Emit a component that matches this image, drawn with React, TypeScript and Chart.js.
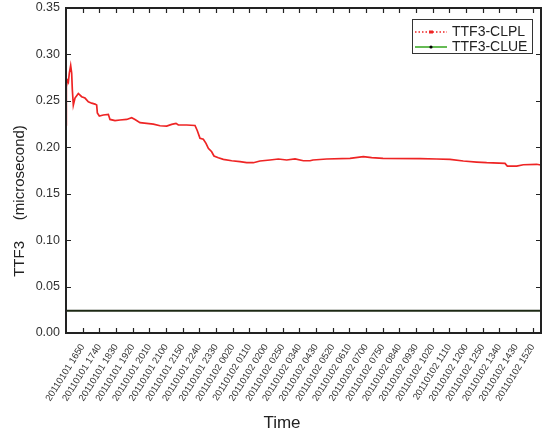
import React, { useEffect, useRef } from 'react';
import { Chart, registerables } from 'chart.js';

Chart.register(...registerables);

// Time stamps are written as "YYYYMMDD HHMM"; the x scale runs in minutes from the axis start.
const axisStart = '20110101 1600';
const axisEnd = '20110102 1545';

const tickLabels = [
  '20110101 1650', '20110101 1740', '20110101 1830', '20110101 1920', '20110101 2010',
  '20110101 2100', '20110101 2150', '20110101 2240', '20110101 2330', '20110102 0020',
  '20110102 0110', '20110102 0200', '20110102 0250', '20110102 0340', '20110102 0430',
  '20110102 0520', '20110102 0610', '20110102 0700', '20110102 0750', '20110102 0840',
  '20110102 0930', '20110102 1020', '20110102 1110', '20110102 1200', '20110102 1250',
  '20110102 1340', '20110102 1430', '20110102 1520',
];

const yTicks = [0, 0.05, 0.1, 0.15, 0.2, 0.25, 0.3, 0.35];

// TTF3-CLPL samples: minutes after 2011-01-01 16:00 and TTF3 in microseconds
const clplMinutes = [
  0, 1, 4, 7, 10, 14, 17, 19, 22, 27, 37, 47, 57, 67, 77, 87, 92, 94, 100, 112,
  127, 132, 147, 162, 182, 197, 207, 222, 242, 262, 282, 302, 317, 330, 337, 362,
  387, 394, 402, 412, 420, 427, 437, 444, 457, 472, 497, 522, 542, 562, 582, 612,
  637, 662, 687, 712, 732, 741, 782, 852, 892, 917, 951, 1062, 1112, 1152, 1192,
  1232, 1262, 1317, 1324, 1352, 1372, 1412, 1424,
];
const clplValues = [
  0.224, 0.265, 0.272, 0.27, 0.28, 0.288, 0.28, 0.262, 0.2455, 0.253, 0.258, 0.2545,
  0.253, 0.249, 0.2475, 0.2465, 0.2455, 0.237, 0.2337, 0.2348, 0.2355, 0.23, 0.2287,
  0.2294, 0.23, 0.2319, 0.23, 0.2265, 0.2258, 0.225, 0.2232, 0.2229, 0.2247, 0.2258,
  0.224, 0.224, 0.2235, 0.2178, 0.2097, 0.2086, 0.2043, 0.1989, 0.1952, 0.1906,
  0.1888, 0.187, 0.1855, 0.1845, 0.1834, 0.1834, 0.1852, 0.1863, 0.1874, 0.1863,
  0.1874, 0.1855, 0.1855, 0.1863, 0.1874, 0.1881, 0.1899, 0.1888, 0.1881, 0.1878,
  0.1874, 0.187, 0.1852, 0.1841, 0.1834, 0.1827, 0.1798, 0.1798, 0.1812, 0.1817,
  0.1809,
];

// TTF3-CLUE stays flat over the whole window
const clueMinutes = [0, 1425];
const clueValues = [0.024, 0.024];

const FONT = '"Liberation Sans", Arial, Helvetica, sans-serif';
const INK = '#222222';
const RED = '#ee2424';
const CLUE_LINE = '#1d2914';
const CLUE_LEGEND = '#66bb55';

function toMinutes(stamp: string): number {
  const day = Number(stamp.slice(6, 8));
  const hh = Number(stamp.slice(9, 11));
  const mm = Number(stamp.slice(11, 13));
  const base = Number(axisStart.slice(9, 11)) * 60 + Number(axisStart.slice(11, 13));
  return (day - 1) * 1440 + hh * 60 + mm - base;
}

const tickMinutes = tickLabels.map(toMinutes);

const framePlugin = {
  id: 'frame',
  afterDatasetsDraw(chart: any) {
    const { ctx, chartArea: a, scales } = chart;
    const len = 5;
    ctx.save();
    ctx.strokeStyle = INK;
    ctx.lineWidth = 1.2;
    ctx.beginPath();
    tickMinutes.forEach((m) => {
      const x = Math.round(scales.x.getPixelForValue(m)) + 0.5;
      ctx.moveTo(x, a.bottom);
      ctx.lineTo(x, a.bottom - len);
      ctx.moveTo(x, a.top);
      ctx.lineTo(x, a.top + len);
    });
    yTicks.forEach((v) => {
      const y = Math.round(scales.y.getPixelForValue(v)) + 0.5;
      ctx.moveTo(a.left, y);
      ctx.lineTo(a.left + len, y);
      ctx.moveTo(a.right, y);
      ctx.lineTo(a.right - len, y);
    });
    ctx.stroke();
    ctx.lineWidth = 2;
    ctx.strokeRect(a.left, a.top, a.right - a.left, a.bottom - a.top);
    ctx.restore();
  },
};

const titlesPlugin = {
  id: 'axisTitles',
  afterDraw(chart: any) {
    const { ctx } = chart;
    ctx.save();
    ctx.fillStyle = INK;
    ctx.textAlign = 'center';
    ctx.textBaseline = 'middle';
    ctx.font = `17px ${FONT}`;
    ctx.fillText('Time', 282, 423);
    ctx.translate(20, 201);
    ctx.rotate(-Math.PI / 2);
    ctx.font = `15px ${FONT}`;
    ctx.fillText('TTF3     (microsecond)', 0, 0);
    ctx.restore();
  },
};

const legendPlugin = {
  id: 'boxLegend',
  afterDraw(chart: any) {
    const { ctx } = chart;
    const bx = 412.5;
    const by = 19.5;
    const bw = 120;
    const bh = 34;
    const x0 = 415;
    const x1 = 447;
    const xm = (x0 + x1) / 2;
    const rows = [by + 12.5, by + 27.5];
    ctx.save();
    ctx.fillStyle = '#ffffff';
    ctx.fillRect(bx, by, bw, bh);
    ctx.strokeStyle = '#333333';
    ctx.lineWidth = 1;
    ctx.strokeRect(bx, by, bw, bh);

    // CLPL: dotted red line with a square marker
    ctx.strokeStyle = RED;
    ctx.lineWidth = 1.3;
    ctx.setLineDash([1.5, 2]);
    ctx.beginPath();
    ctx.moveTo(x0, rows[0]);
    ctx.lineTo(x1, rows[0]);
    ctx.stroke();
    ctx.setLineDash([]);
    ctx.fillStyle = RED;
    ctx.fillRect(xm - 2, rows[0] - 1.5, 4, 3);

    // CLUE: solid green line with a black dot
    ctx.strokeStyle = CLUE_LEGEND;
    ctx.lineWidth = 2;
    ctx.beginPath();
    ctx.moveTo(x0, rows[1]);
    ctx.lineTo(x1, rows[1]);
    ctx.stroke();
    ctx.fillStyle = '#000000';
    ctx.beginPath();
    ctx.arc(xm, rows[1], 1.6, 0, Math.PI * 2);
    ctx.fill();

    ctx.fillStyle = INK;
    ctx.font = `14px ${FONT}`;
    ctx.textAlign = 'left';
    ctx.textBaseline = 'middle';
    ctx.fillText('TTF3-CLPL', 452, rows[0] + 0.5);
    ctx.fillText('TTF3-CLUE', 452, rows[1] + 0.5);
    ctx.restore();
  },
};

export default function App() {
  const canvasRef = useRef<HTMLCanvasElement | null>(null);

  useEffect(() => {
    const canvas = canvasRef.current;
    if (!canvas) return;
    const chart = new Chart(canvas, {
      type: 'line',
      data: {
        datasets: [
          {
            label: 'TTF3-CLPL',
            data: clplMinutes.map((m, i) => ({ x: m, y: clplValues[i] })),
            borderColor: RED,
            backgroundColor: RED,
            borderWidth: 1.7,
            pointRadius: 0,
            tension: 0,
          },
          {
            label: 'TTF3-CLUE',
            data: clueMinutes.map((m, i) => ({ x: m, y: clueValues[i] })),
            borderColor: CLUE_LINE,
            backgroundColor: CLUE_LINE,
            borderWidth: 2,
            pointRadius: 0,
            tension: 0,
          },
        ],
      },
      options: {
        responsive: false,
        animation: false,
        devicePixelRatio: 1,
        layout: { padding: { top: 8, right: 1, left: 0, bottom: 0 } },
        plugins: {
          legend: { display: false },
          tooltip: { enabled: false },
        },
        scales: {
          x: {
            type: 'linear',
            min: toMinutes(axisStart),
            max: toMinutes(axisEnd),
            grid: { display: false, drawTicks: false },
            border: { display: false },
            afterBuildTicks: (scale: any) => {
              scale.ticks = tickMinutes.map((v) => ({ value: v }));
            },
            afterFit: (scale: any) => {
              scale.height = 103;
              scale.paddingLeft = 0;
              scale.paddingRight = 0;
            },
            ticks: {
              autoSkip: false,
              minRotation: 58,
              maxRotation: 58,
              padding: 9,
              color: '#333333',
              font: { family: FONT, size: 9.5 },
              callback: (v: any) => {
                const i = tickMinutes.indexOf(Number(v));
                return i >= 0 ? tickLabels[i] : '';
              },
            },
          },
          y: {
            type: 'linear',
            min: 0,
            max: 0.35,
            grid: { display: false, drawTicks: false },
            border: { display: false },
            afterBuildTicks: (scale: any) => {
              scale.ticks = yTicks.map((v) => ({ value: v }));
            },
            afterFit: (scale: any) => {
              scale.width = 66;
              scale.paddingTop = 0;
              scale.paddingBottom = 0;
            },
            ticks: {
              padding: 6,
              color: '#333333',
              font: { family: FONT, size: 12.5 },
              callback: (v: any) => Number(v).toFixed(2),
            },
          },
        },
      },
      plugins: [framePlugin, titlesPlugin, legendPlugin],
    });
    return () => chart.destroy();
  }, []);

  return (
    <div style={{ position: 'absolute', left: 0, top: 0, width: 542, height: 436, background: '#ffffff' }}>
      <canvas ref={canvasRef} width={542} height={436} style={{ display: 'block' }} />
    </div>
  );
}
